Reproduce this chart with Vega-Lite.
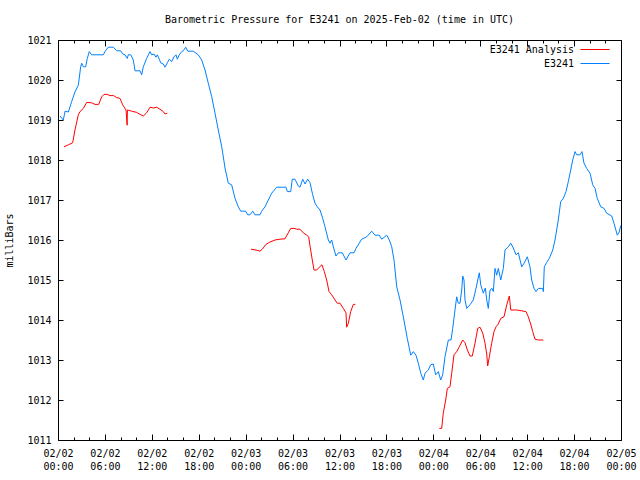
{
  "$schema": "https://vega.github.io/schema/vega-lite/v6.json",
  "width": 563,
  "height": 400,
  "autosize": {"type": "none"},
  "padding": {"left": 58, "top": 40, "right": 19, "bottom": 40},
  "background": "white",
  "config": {
    "view": {"stroke": null},
    "font": "DejaVu Sans Mono",
    "axis": {"grid": false, "domain": true, "ticks": true, "domainColor": "black", "tickColor": "black", "tickWidth": 1, "labelColor": "black", "labelFont": "DejaVu Sans Mono", "labelFontSize": 10, "titleFont": "DejaVu Sans Mono", "titleFontSize": 10, "titleFontWeight": "normal", "titleColor": "black"},
    "legend": {"labelFont": "DejaVu Sans Mono", "labelFontSize": 10, "labelColor": "black"}
  },
  "title": {"text": "Barometric Pressure for E3241 on 2025-Feb-02 (time in UTC)", "font": "DejaVu Sans Mono", "fontSize": 10, "fontWeight": "normal", "color": "black", "anchor": "middle", "baseline": "alphabetic", "offset": 2, "frame": "group"},
  "datasets": {
    "d": [
      {"h": 0.26, "p": 1019.1, "s": "E3241", "seg": "b"},
      {"h": 0.68, "p": 1019.0, "s": "E3241", "seg": "b"},
      {"h": 0.9, "p": 1019.22, "s": "E3241", "seg": "b"},
      {"h": 1.32, "p": 1019.2, "s": "E3241", "seg": "b"},
      {"h": 1.75, "p": 1019.46, "s": "E3241", "seg": "b"},
      {"h": 2.17, "p": 1019.7, "s": "E3241", "seg": "b"},
      {"h": 2.6, "p": 1019.87, "s": "E3241", "seg": "b"},
      {"h": 2.9, "p": 1020.33, "s": "E3241", "seg": "b"},
      {"h": 3.03, "p": 1020.42, "s": "E3241", "seg": "b"},
      {"h": 3.24, "p": 1020.33, "s": "E3241", "seg": "b"},
      {"h": 3.54, "p": 1020.33, "s": "E3241", "seg": "b"},
      {"h": 3.75, "p": 1020.54, "s": "E3241", "seg": "b"},
      {"h": 4.0, "p": 1020.71, "s": "E3241", "seg": "b"},
      {"h": 4.31, "p": 1020.63, "s": "E3241", "seg": "b"},
      {"h": 5.79, "p": 1020.63, "s": "E3241", "seg": "b"},
      {"h": 6.01, "p": 1020.71, "s": "E3241", "seg": "b"},
      {"h": 6.43, "p": 1020.82, "s": "E3241", "seg": "b"},
      {"h": 7.07, "p": 1020.82, "s": "E3241", "seg": "b"},
      {"h": 7.51, "p": 1020.73, "s": "E3241", "seg": "b"},
      {"h": 8.02, "p": 1020.73, "s": "E3241", "seg": "b"},
      {"h": 8.27, "p": 1020.65, "s": "E3241", "seg": "b"},
      {"h": 8.57, "p": 1020.63, "s": "E3241", "seg": "b"},
      {"h": 8.86, "p": 1020.54, "s": "E3241", "seg": "b"},
      {"h": 8.99, "p": 1020.63, "s": "E3241", "seg": "b"},
      {"h": 9.3, "p": 1020.63, "s": "E3241", "seg": "b"},
      {"h": 9.63, "p": 1020.5, "s": "E3241", "seg": "b"},
      {"h": 9.85, "p": 1020.23, "s": "E3241", "seg": "b"},
      {"h": 10.49, "p": 1020.23, "s": "E3241", "seg": "b"},
      {"h": 10.7, "p": 1020.13, "s": "E3241", "seg": "b"},
      {"h": 10.91, "p": 1020.33, "s": "E3241", "seg": "b"},
      {"h": 11.34, "p": 1020.54, "s": "E3241", "seg": "b"},
      {"h": 11.77, "p": 1020.71, "s": "E3241", "seg": "b"},
      {"h": 11.98, "p": 1020.63, "s": "E3241", "seg": "b"},
      {"h": 12.28, "p": 1020.65, "s": "E3241", "seg": "b"},
      {"h": 12.53, "p": 1020.57, "s": "E3241", "seg": "b"},
      {"h": 12.7, "p": 1020.63, "s": "E3241", "seg": "b"},
      {"h": 12.96, "p": 1020.52, "s": "E3241", "seg": "b"},
      {"h": 13.13, "p": 1020.43, "s": "E3241", "seg": "b"},
      {"h": 13.47, "p": 1020.4, "s": "E3241", "seg": "b"},
      {"h": 13.68, "p": 1020.32, "s": "E3241", "seg": "b"},
      {"h": 13.98, "p": 1020.43, "s": "E3241", "seg": "b"},
      {"h": 14.23, "p": 1020.52, "s": "E3241", "seg": "b"},
      {"h": 14.54, "p": 1020.46, "s": "E3241", "seg": "b"},
      {"h": 14.84, "p": 1020.58, "s": "E3241", "seg": "b"},
      {"h": 15.09, "p": 1020.63, "s": "E3241", "seg": "b"},
      {"h": 15.26, "p": 1020.52, "s": "E3241", "seg": "b"},
      {"h": 15.51, "p": 1020.63, "s": "E3241", "seg": "b"},
      {"h": 15.82, "p": 1020.71, "s": "E3241", "seg": "b"},
      {"h": 16.02, "p": 1020.73, "s": "E3241", "seg": "b"},
      {"h": 16.33, "p": 1020.82, "s": "E3241", "seg": "b"},
      {"h": 16.59, "p": 1020.72, "s": "E3241", "seg": "b"},
      {"h": 17.3, "p": 1020.72, "s": "E3241", "seg": "b"},
      {"h": 17.94, "p": 1020.63, "s": "E3241", "seg": "b"},
      {"h": 18.38, "p": 1020.5, "s": "E3241", "seg": "b"},
      {"h": 18.8, "p": 1020.25, "s": "E3241", "seg": "b"},
      {"h": 19.22, "p": 1019.92, "s": "E3241", "seg": "b"},
      {"h": 19.66, "p": 1019.58, "s": "E3241", "seg": "b"},
      {"h": 20.08, "p": 1019.17, "s": "E3241", "seg": "b"},
      {"h": 20.5, "p": 1018.75, "s": "E3241", "seg": "b"},
      {"h": 20.94, "p": 1018.33, "s": "E3241", "seg": "b"},
      {"h": 21.36, "p": 1017.8, "s": "E3241", "seg": "b"},
      {"h": 21.78, "p": 1017.42, "s": "E3241", "seg": "b"},
      {"h": 22.21, "p": 1017.38, "s": "E3241", "seg": "b"},
      {"h": 22.64, "p": 1017.04, "s": "E3241", "seg": "b"},
      {"h": 23.06, "p": 1016.83, "s": "E3241", "seg": "b"},
      {"h": 23.37, "p": 1016.72, "s": "E3241", "seg": "b"},
      {"h": 24.0, "p": 1016.72, "s": "E3241", "seg": "b"},
      {"h": 24.26, "p": 1016.63, "s": "E3241", "seg": "b"},
      {"h": 24.55, "p": 1016.63, "s": "E3241", "seg": "b"},
      {"h": 24.9, "p": 1016.72, "s": "E3241", "seg": "b"},
      {"h": 25.19, "p": 1016.63, "s": "E3241", "seg": "b"},
      {"h": 25.83, "p": 1016.63, "s": "E3241", "seg": "b"},
      {"h": 26.05, "p": 1016.72, "s": "E3241", "seg": "b"},
      {"h": 26.47, "p": 1016.83, "s": "E3241", "seg": "b"},
      {"h": 26.9, "p": 1017.0, "s": "E3241", "seg": "b"},
      {"h": 27.33, "p": 1017.17, "s": "E3241", "seg": "b"},
      {"h": 27.97, "p": 1017.32, "s": "E3241", "seg": "b"},
      {"h": 29.16, "p": 1017.32, "s": "E3241", "seg": "b"},
      {"h": 29.33, "p": 1017.21, "s": "E3241", "seg": "b"},
      {"h": 29.76, "p": 1017.21, "s": "E3241", "seg": "b"},
      {"h": 29.96, "p": 1017.52, "s": "E3241", "seg": "b"},
      {"h": 30.31, "p": 1017.52, "s": "E3241", "seg": "b"},
      {"h": 30.73, "p": 1017.35, "s": "E3241", "seg": "b"},
      {"h": 30.95, "p": 1017.32, "s": "E3241", "seg": "b"},
      {"h": 31.3, "p": 1017.52, "s": "E3241", "seg": "b"},
      {"h": 31.59, "p": 1017.4, "s": "E3241", "seg": "b"},
      {"h": 31.93, "p": 1017.52, "s": "E3241", "seg": "b"},
      {"h": 32.23, "p": 1017.43, "s": "E3241", "seg": "b"},
      {"h": 32.57, "p": 1017.13, "s": "E3241", "seg": "b"},
      {"h": 32.87, "p": 1016.92, "s": "E3241", "seg": "b"},
      {"h": 33.16, "p": 1016.83, "s": "E3241", "seg": "b"},
      {"h": 33.51, "p": 1016.75, "s": "E3241", "seg": "b"},
      {"h": 33.85, "p": 1016.54, "s": "E3241", "seg": "b"},
      {"h": 34.15, "p": 1016.33, "s": "E3241", "seg": "b"},
      {"h": 34.57, "p": 1016.0, "s": "E3241", "seg": "b"},
      {"h": 34.79, "p": 1015.92, "s": "E3241", "seg": "b"},
      {"h": 35.0, "p": 1016.0, "s": "E3241", "seg": "b"},
      {"h": 35.21, "p": 1015.83, "s": "E3241", "seg": "b"},
      {"h": 35.55, "p": 1015.6, "s": "E3241", "seg": "b"},
      {"h": 35.85, "p": 1015.68, "s": "E3241", "seg": "b"},
      {"h": 36.36, "p": 1015.68, "s": "E3241", "seg": "b"},
      {"h": 36.83, "p": 1015.5, "s": "E3241", "seg": "b"},
      {"h": 37.34, "p": 1015.68, "s": "E3241", "seg": "b"},
      {"h": 37.86, "p": 1015.68, "s": "E3241", "seg": "b"},
      {"h": 38.11, "p": 1015.79, "s": "E3241", "seg": "b"},
      {"h": 38.84, "p": 1016.02, "s": "E3241", "seg": "b"},
      {"h": 39.48, "p": 1016.08, "s": "E3241", "seg": "b"},
      {"h": 40.12, "p": 1016.22, "s": "E3241", "seg": "b"},
      {"h": 40.54, "p": 1016.12, "s": "E3241", "seg": "b"},
      {"h": 41.09, "p": 1016.12, "s": "E3241", "seg": "b"},
      {"h": 41.4, "p": 1016.02, "s": "E3241", "seg": "b"},
      {"h": 42.04, "p": 1016.12, "s": "E3241", "seg": "b"},
      {"h": 42.37, "p": 1016.0, "s": "E3241", "seg": "b"},
      {"h": 42.68, "p": 1015.83, "s": "E3241", "seg": "b"},
      {"h": 42.97, "p": 1015.5, "s": "E3241", "seg": "b"},
      {"h": 43.32, "p": 1014.83, "s": "E3241", "seg": "b"},
      {"h": 43.74, "p": 1014.5, "s": "E3241", "seg": "b"},
      {"h": 44.16, "p": 1014.08, "s": "E3241", "seg": "b"},
      {"h": 44.67, "p": 1013.54, "s": "E3241", "seg": "b"},
      {"h": 45.11, "p": 1013.12, "s": "E3241", "seg": "b"},
      {"h": 45.44, "p": 1013.21, "s": "E3241", "seg": "b"},
      {"h": 45.78, "p": 1013.12, "s": "E3241", "seg": "b"},
      {"h": 46.08, "p": 1012.92, "s": "E3241", "seg": "b"},
      {"h": 46.39, "p": 1012.67, "s": "E3241", "seg": "b"},
      {"h": 46.72, "p": 1012.5, "s": "E3241", "seg": "b"},
      {"h": 46.94, "p": 1012.67, "s": "E3241", "seg": "b"},
      {"h": 47.36, "p": 1012.75, "s": "E3241", "seg": "b"},
      {"h": 47.66, "p": 1012.88, "s": "E3241", "seg": "b"},
      {"h": 48.0, "p": 1012.9, "s": "E3241", "seg": "b"},
      {"h": 48.3, "p": 1012.63, "s": "E3241", "seg": "b"},
      {"h": 48.64, "p": 1012.71, "s": "E3241", "seg": "b"},
      {"h": 48.94, "p": 1012.5, "s": "E3241", "seg": "b"},
      {"h": 49.2, "p": 1012.63, "s": "E3241", "seg": "b"},
      {"h": 49.49, "p": 1013.08, "s": "E3241", "seg": "b"},
      {"h": 49.92, "p": 1013.5, "s": "E3241", "seg": "b"},
      {"h": 50.26, "p": 1013.5, "s": "E3241", "seg": "b"},
      {"h": 50.48, "p": 1013.79, "s": "E3241", "seg": "b"},
      {"h": 50.77, "p": 1014.25, "s": "E3241", "seg": "b"},
      {"h": 50.99, "p": 1014.58, "s": "E3241", "seg": "b"},
      {"h": 51.19, "p": 1014.42, "s": "E3241", "seg": "b"},
      {"h": 51.41, "p": 1014.42, "s": "E3241", "seg": "b"},
      {"h": 51.63, "p": 1014.75, "s": "E3241", "seg": "b"},
      {"h": 51.76, "p": 1015.1, "s": "E3241", "seg": "b"},
      {"h": 51.92, "p": 1015.0, "s": "E3241", "seg": "b"},
      {"h": 52.05, "p": 1014.5, "s": "E3241", "seg": "b"},
      {"h": 52.27, "p": 1014.29, "s": "E3241", "seg": "b"},
      {"h": 52.69, "p": 1014.38, "s": "E3241", "seg": "b"},
      {"h": 53.11, "p": 1014.5, "s": "E3241", "seg": "b"},
      {"h": 53.46, "p": 1014.79, "s": "E3241", "seg": "b"},
      {"h": 53.68, "p": 1015.0, "s": "E3241", "seg": "b"},
      {"h": 53.88, "p": 1015.18, "s": "E3241", "seg": "b"},
      {"h": 54.06, "p": 1014.88, "s": "E3241", "seg": "b"},
      {"h": 54.39, "p": 1014.67, "s": "E3241", "seg": "b"},
      {"h": 54.65, "p": 1014.8, "s": "E3241", "seg": "b"},
      {"h": 54.83, "p": 1014.5, "s": "E3241", "seg": "b"},
      {"h": 55.03, "p": 1014.29, "s": "E3241", "seg": "b"},
      {"h": 55.25, "p": 1014.75, "s": "E3241", "seg": "b"},
      {"h": 55.5, "p": 1014.79, "s": "E3241", "seg": "b"},
      {"h": 55.67, "p": 1014.71, "s": "E3241", "seg": "b"},
      {"h": 55.89, "p": 1015.29, "s": "E3241", "seg": "b"},
      {"h": 56.1, "p": 1015.12, "s": "E3241", "seg": "b"},
      {"h": 56.31, "p": 1015.29, "s": "E3241", "seg": "b"},
      {"h": 56.62, "p": 1015.0, "s": "E3241", "seg": "b"},
      {"h": 56.95, "p": 1015.29, "s": "E3241", "seg": "b"},
      {"h": 57.17, "p": 1015.75, "s": "E3241", "seg": "b"},
      {"h": 57.59, "p": 1015.83, "s": "E3241", "seg": "b"},
      {"h": 57.9, "p": 1015.92, "s": "E3241", "seg": "b"},
      {"h": 58.23, "p": 1015.8, "s": "E3241", "seg": "b"},
      {"h": 58.57, "p": 1015.63, "s": "E3241", "seg": "b"},
      {"h": 58.87, "p": 1015.68, "s": "E3241", "seg": "b"},
      {"h": 59.3, "p": 1015.33, "s": "E3241", "seg": "b"},
      {"h": 59.6, "p": 1015.42, "s": "E3241", "seg": "b"},
      {"h": 60.02, "p": 1015.58, "s": "E3241", "seg": "b"},
      {"h": 60.36, "p": 1015.33, "s": "E3241", "seg": "b"},
      {"h": 60.58, "p": 1015.0, "s": "E3241", "seg": "b"},
      {"h": 60.87, "p": 1014.79, "s": "E3241", "seg": "b"},
      {"h": 61.13, "p": 1014.71, "s": "E3241", "seg": "b"},
      {"h": 61.43, "p": 1014.79, "s": "E3241", "seg": "b"},
      {"h": 61.99, "p": 1014.79, "s": "E3241", "seg": "b"},
      {"h": 62.07, "p": 1014.71, "s": "E3241", "seg": "b"},
      {"h": 62.19, "p": 1015.33, "s": "E3241", "seg": "b"},
      {"h": 62.5, "p": 1015.44, "s": "E3241", "seg": "b"},
      {"h": 62.83, "p": 1015.54, "s": "E3241", "seg": "b"},
      {"h": 63.27, "p": 1015.75, "s": "E3241", "seg": "b"},
      {"h": 63.56, "p": 1016.0, "s": "E3241", "seg": "b"},
      {"h": 63.98, "p": 1016.5, "s": "E3241", "seg": "b"},
      {"h": 64.29, "p": 1016.96, "s": "E3241", "seg": "b"},
      {"h": 64.62, "p": 1017.04, "s": "E3241", "seg": "b"},
      {"h": 64.97, "p": 1017.21, "s": "E3241", "seg": "b"},
      {"h": 65.26, "p": 1017.46, "s": "E3241", "seg": "b"},
      {"h": 65.57, "p": 1017.75, "s": "E3241", "seg": "b"},
      {"h": 65.82, "p": 1018.0, "s": "E3241", "seg": "b"},
      {"h": 66.12, "p": 1018.21, "s": "E3241", "seg": "b"},
      {"h": 66.34, "p": 1018.13, "s": "E3241", "seg": "b"},
      {"h": 66.76, "p": 1018.13, "s": "E3241", "seg": "b"},
      {"h": 67.01, "p": 1018.21, "s": "E3241", "seg": "b"},
      {"h": 67.27, "p": 1017.92, "s": "E3241", "seg": "b"},
      {"h": 67.61, "p": 1017.79, "s": "E3241", "seg": "b"},
      {"h": 68.04, "p": 1017.67, "s": "E3241", "seg": "b"},
      {"h": 68.38, "p": 1017.38, "s": "E3241", "seg": "b"},
      {"h": 68.68, "p": 1017.29, "s": "E3241", "seg": "b"},
      {"h": 68.97, "p": 1017.04, "s": "E3241", "seg": "b"},
      {"h": 69.41, "p": 1016.83, "s": "E3241", "seg": "b"},
      {"h": 69.83, "p": 1016.79, "s": "E3241", "seg": "b"},
      {"h": 70.17, "p": 1016.67, "s": "E3241", "seg": "b"},
      {"h": 70.81, "p": 1016.6, "s": "E3241", "seg": "b"},
      {"h": 71.1, "p": 1016.42, "s": "E3241", "seg": "b"},
      {"h": 71.53, "p": 1016.12, "s": "E3241", "seg": "b"},
      {"h": 71.78, "p": 1016.2, "s": "E3241", "seg": "b"},
      {"h": 71.96, "p": 1016.36, "s": "E3241", "seg": "b"},

      {"h": 0.77, "p": 1018.33, "s": "E3241 Analysis", "seg": "r1"},
      {"h": 1.32, "p": 1018.38, "s": "E3241 Analysis", "seg": "r1"},
      {"h": 1.88, "p": 1018.43, "s": "E3241 Analysis", "seg": "r1"},
      {"h": 2.17, "p": 1018.75, "s": "E3241 Analysis", "seg": "r1"},
      {"h": 2.6, "p": 1019.13, "s": "E3241 Analysis", "seg": "r1"},
      {"h": 2.81, "p": 1019.21, "s": "E3241 Analysis", "seg": "r1"},
      {"h": 3.24, "p": 1019.29, "s": "E3241 Analysis", "seg": "r1"},
      {"h": 3.67, "p": 1019.44, "s": "E3241 Analysis", "seg": "r1"},
      {"h": 4.31, "p": 1019.43, "s": "E3241 Analysis", "seg": "r1"},
      {"h": 4.73, "p": 1019.39, "s": "E3241 Analysis", "seg": "r1"},
      {"h": 5.2, "p": 1019.39, "s": "E3241 Analysis", "seg": "r1"},
      {"h": 5.59, "p": 1019.58, "s": "E3241 Analysis", "seg": "r1"},
      {"h": 5.88, "p": 1019.64, "s": "E3241 Analysis", "seg": "r1"},
      {"h": 6.3, "p": 1019.64, "s": "E3241 Analysis", "seg": "r1"},
      {"h": 6.65, "p": 1019.61, "s": "E3241 Analysis", "seg": "r1"},
      {"h": 7.1, "p": 1019.61, "s": "E3241 Analysis", "seg": "r1"},
      {"h": 7.51, "p": 1019.56, "s": "E3241 Analysis", "seg": "r1"},
      {"h": 7.93, "p": 1019.54, "s": "E3241 Analysis", "seg": "r1"},
      {"h": 8.27, "p": 1019.38, "s": "E3241 Analysis", "seg": "r1"},
      {"h": 8.7, "p": 1019.25, "s": "E3241 Analysis", "seg": "r1"},
      {"h": 8.84, "p": 1018.87, "s": "E3241 Analysis", "seg": "r1"},
      {"h": 8.88, "p": 1019.25, "s": "E3241 Analysis", "seg": "r1"},
      {"h": 9.43, "p": 1019.22, "s": "E3241 Analysis", "seg": "r1"},
      {"h": 10.06, "p": 1019.19, "s": "E3241 Analysis", "seg": "r1"},
      {"h": 10.49, "p": 1019.14, "s": "E3241 Analysis", "seg": "r1"},
      {"h": 10.91, "p": 1019.1, "s": "E3241 Analysis", "seg": "r1"},
      {"h": 11.34, "p": 1019.18, "s": "E3241 Analysis", "seg": "r1"},
      {"h": 11.77, "p": 1019.32, "s": "E3241 Analysis", "seg": "r1"},
      {"h": 12.2, "p": 1019.3, "s": "E3241 Analysis", "seg": "r1"},
      {"h": 12.62, "p": 1019.32, "s": "E3241 Analysis", "seg": "r1"},
      {"h": 13.04, "p": 1019.27, "s": "E3241 Analysis", "seg": "r1"},
      {"h": 13.47, "p": 1019.21, "s": "E3241 Analysis", "seg": "r1"},
      {"h": 13.68, "p": 1019.15, "s": "E3241 Analysis", "seg": "r1"},
      {"h": 13.98, "p": 1019.17, "s": "E3241 Analysis", "seg": "r1"},

      {"h": 24.68, "p": 1015.77, "s": "E3241 Analysis", "seg": "r2"},
      {"h": 25.32, "p": 1015.75, "s": "E3241 Analysis", "seg": "r2"},
      {"h": 25.83, "p": 1015.72, "s": "E3241 Analysis", "seg": "r2"},
      {"h": 26.13, "p": 1015.77, "s": "E3241 Analysis", "seg": "r2"},
      {"h": 26.6, "p": 1015.89, "s": "E3241 Analysis", "seg": "r2"},
      {"h": 27.11, "p": 1015.95, "s": "E3241 Analysis", "seg": "r2"},
      {"h": 27.75, "p": 1016.0, "s": "E3241 Analysis", "seg": "r2"},
      {"h": 28.39, "p": 1016.02, "s": "E3241 Analysis", "seg": "r2"},
      {"h": 29.03, "p": 1016.03, "s": "E3241 Analysis", "seg": "r2"},
      {"h": 29.45, "p": 1016.18, "s": "E3241 Analysis", "seg": "r2"},
      {"h": 29.76, "p": 1016.29, "s": "E3241 Analysis", "seg": "r2"},
      {"h": 30.18, "p": 1016.29, "s": "E3241 Analysis", "seg": "r2"},
      {"h": 30.53, "p": 1016.27, "s": "E3241 Analysis", "seg": "r2"},
      {"h": 30.95, "p": 1016.27, "s": "E3241 Analysis", "seg": "r2"},
      {"h": 31.37, "p": 1016.18, "s": "E3241 Analysis", "seg": "r2"},
      {"h": 31.81, "p": 1016.12, "s": "E3241 Analysis", "seg": "r2"},
      {"h": 32.06, "p": 1016.08, "s": "E3241 Analysis", "seg": "r2"},
      {"h": 32.23, "p": 1015.85, "s": "E3241 Analysis", "seg": "r2"},
      {"h": 32.52, "p": 1015.5, "s": "E3241 Analysis", "seg": "r2"},
      {"h": 32.74, "p": 1015.25, "s": "E3241 Analysis", "seg": "r2"},
      {"h": 33.09, "p": 1015.25, "s": "E3241 Analysis", "seg": "r2"},
      {"h": 33.42, "p": 1015.32, "s": "E3241 Analysis", "seg": "r2"},
      {"h": 33.76, "p": 1015.38, "s": "E3241 Analysis", "seg": "r2"},
      {"h": 34.06, "p": 1015.21, "s": "E3241 Analysis", "seg": "r2"},
      {"h": 34.36, "p": 1015.0, "s": "E3241 Analysis", "seg": "r2"},
      {"h": 34.66, "p": 1014.71, "s": "E3241 Analysis", "seg": "r2"},
      {"h": 35.0, "p": 1014.63, "s": "E3241 Analysis", "seg": "r2"},
      {"h": 35.43, "p": 1014.5, "s": "E3241 Analysis", "seg": "r2"},
      {"h": 35.72, "p": 1014.42, "s": "E3241 Analysis", "seg": "r2"},
      {"h": 36.06, "p": 1014.42, "s": "E3241 Analysis", "seg": "r2"},
      {"h": 36.49, "p": 1014.29, "s": "E3241 Analysis", "seg": "r2"},
      {"h": 36.83, "p": 1014.18, "s": "E3241 Analysis", "seg": "r2"},
      {"h": 36.92, "p": 1013.82, "s": "E3241 Analysis", "seg": "r2"},
      {"h": 37.13, "p": 1013.92, "s": "E3241 Analysis", "seg": "r2"},
      {"h": 37.43, "p": 1014.21, "s": "E3241 Analysis", "seg": "r2"},
      {"h": 37.77, "p": 1014.39, "s": "E3241 Analysis", "seg": "r2"},
      {"h": 38.02, "p": 1014.39, "s": "E3241 Analysis", "seg": "r2"},

      {"h": 48.76, "p": 1011.29, "s": "E3241 Analysis", "seg": "r3"},
      {"h": 49.07, "p": 1011.29, "s": "E3241 Analysis", "seg": "r3"},
      {"h": 49.27, "p": 1011.67, "s": "E3241 Analysis", "seg": "r3"},
      {"h": 49.58, "p": 1012.0, "s": "E3241 Analysis", "seg": "r3"},
      {"h": 49.79, "p": 1012.29, "s": "E3241 Analysis", "seg": "r3"},
      {"h": 50.13, "p": 1012.33, "s": "E3241 Analysis", "seg": "r3"},
      {"h": 50.35, "p": 1012.67, "s": "E3241 Analysis", "seg": "r3"},
      {"h": 50.64, "p": 1013.13, "s": "E3241 Analysis", "seg": "r3"},
      {"h": 50.99, "p": 1013.21, "s": "E3241 Analysis", "seg": "r3"},
      {"h": 51.32, "p": 1013.33, "s": "E3241 Analysis", "seg": "r3"},
      {"h": 51.76, "p": 1013.5, "s": "E3241 Analysis", "seg": "r3"},
      {"h": 52.05, "p": 1013.43, "s": "E3241 Analysis", "seg": "r3"},
      {"h": 52.35, "p": 1013.25, "s": "E3241 Analysis", "seg": "r3"},
      {"h": 52.69, "p": 1013.1, "s": "E3241 Analysis", "seg": "r3"},
      {"h": 52.98, "p": 1013.1, "s": "E3241 Analysis", "seg": "r3"},
      {"h": 53.33, "p": 1013.42, "s": "E3241 Analysis", "seg": "r3"},
      {"h": 53.68, "p": 1013.79, "s": "E3241 Analysis", "seg": "r3"},
      {"h": 53.97, "p": 1013.82, "s": "E3241 Analysis", "seg": "r3"},
      {"h": 54.32, "p": 1013.67, "s": "E3241 Analysis", "seg": "r3"},
      {"h": 54.61, "p": 1013.42, "s": "E3241 Analysis", "seg": "r3"},
      {"h": 54.83, "p": 1013.15, "s": "E3241 Analysis", "seg": "r3"},
      {"h": 54.95, "p": 1012.85, "s": "E3241 Analysis", "seg": "r3"},
      {"h": 55.16, "p": 1013.08, "s": "E3241 Analysis", "seg": "r3"},
      {"h": 55.46, "p": 1013.42, "s": "E3241 Analysis", "seg": "r3"},
      {"h": 55.76, "p": 1013.71, "s": "E3241 Analysis", "seg": "r3"},
      {"h": 56.02, "p": 1013.83, "s": "E3241 Analysis", "seg": "r3"},
      {"h": 56.31, "p": 1013.9, "s": "E3241 Analysis", "seg": "r3"},
      {"h": 56.62, "p": 1014.04, "s": "E3241 Analysis", "seg": "r3"},
      {"h": 57.04, "p": 1014.08, "s": "E3241 Analysis", "seg": "r3"},
      {"h": 57.39, "p": 1014.38, "s": "E3241 Analysis", "seg": "r3"},
      {"h": 57.72, "p": 1014.6, "s": "E3241 Analysis", "seg": "r3"},
      {"h": 57.9, "p": 1014.25, "s": "E3241 Analysis", "seg": "r3"},
      {"h": 58.66, "p": 1014.25, "s": "E3241 Analysis", "seg": "r3"},
      {"h": 59.3, "p": 1014.23, "s": "E3241 Analysis", "seg": "r3"},
      {"h": 59.85, "p": 1014.21, "s": "E3241 Analysis", "seg": "r3"},
      {"h": 60.15, "p": 1014.08, "s": "E3241 Analysis", "seg": "r3"},
      {"h": 60.45, "p": 1013.9, "s": "E3241 Analysis", "seg": "r3"},
      {"h": 60.71, "p": 1013.71, "s": "E3241 Analysis", "seg": "r3"},
      {"h": 61.0, "p": 1013.52, "s": "E3241 Analysis", "seg": "r3"},
      {"h": 61.43, "p": 1013.5, "s": "E3241 Analysis", "seg": "r3"},
      {"h": 62.07, "p": 1013.5, "s": "E3241 Analysis", "seg": "r3"}
    ]
  },
  "data": {"name": "d"},
  "resolve": {"axis": {"x": "independent", "y": "independent"}},
  "layer": [
    {
      "mark": {"type": "line", "strokeWidth": 1, "interpolate": "linear"},
      "encoding": {
        "x": {"field": "h", "type": "quantitative", "scale": {"domain": [0, 72], "nice": false, "zero": false},
          "axis": {"orient": "bottom", "title": null, "values": [0, 6, 12, 18, 24, 30, 36, 42, 48, 54, 60, 66, 72], "tickSize": -6, "labelPadding": 14, "labelLineHeight": 13, "labelFlush": false, "labelOverlap": false,
            "labelExpr": "['02/0' + (2 + floor(datum.value / 24)), (datum.value % 24 < 10 ? '0' : '') + (datum.value % 24) + ':00']"}},
        "y": {"field": "p", "type": "quantitative", "scale": {"domain": [1011, 1021], "nice": false, "zero": false},
          "axis": {"orient": "left", "title": "milliBars", "values": [1011, 1012, 1013, 1014, 1015, 1016, 1017, 1018, 1019, 1020, 1021], "tickSize": -5, "labelPadding": 12, "labelFlush": false, "labelOverlap": false, "titlePadding": 12, "format": "d"}},
        "color": {"field": "s", "type": "nominal", "scale": {"domain": ["E3241 Analysis", "E3241"], "range": ["#ff0000", "#0080ff"]},
          "legend": {"title": null, "orient": "none", "legendX": 531.5, "legendY": 4, "symbolType": "M-3,0H3", "symbolSize": 94, "symbolStrokeWidth": 1, "labelAlign": "right", "labelOffset": -26.5, "rowPadding": 3, "padding": 0,
            "encode": {"symbols": {"update": {"stroke": {"scale": "color", "field": "value"}, "fill": {"value": "transparent"}}}}}},
        "detail": {"field": "seg", "type": "nominal"}
      }
    },
    {
      "mark": {"type": "line", "opacity": 0},
      "encoding": {
        "x": {"field": "h", "type": "quantitative",
          "axis": {"orient": "top", "title": null, "values": [0, 6, 12, 18, 24, 30, 36, 42, 48, 54, 60, 66, 72], "tickSize": -6, "labels": false}},
        "y": {"field": "p", "type": "quantitative",
          "axis": {"orient": "right", "title": null, "values": [1011, 1012, 1013, 1014, 1015, 1016, 1017, 1018, 1019, 1020, 1021], "tickSize": -5, "labels": false}},
        "detail": {"field": "seg", "type": "nominal"}
      }
    },
    {
      "mark": {"type": "line", "opacity": 0},
      "encoding": {
        "x": {"field": "h", "type": "quantitative",
          "axis": {"orient": "bottom", "title": null, "values": [2, 4, 8, 10, 14, 16, 20, 22, 26, 28, 32, 34, 38, 40, 44, 46, 50, 52, 56, 58, 62, 64, 68, 70], "tickSize": -3, "labels": false, "domain": false}},
        "y": {"field": "p", "type": "quantitative", "axis": {"orient": "left", "title": null, "labels": false, "ticks": false, "domain": false}},
        "detail": {"field": "seg", "type": "nominal"}
      }
    },
    {
      "mark": {"type": "line", "opacity": 0},
      "encoding": {
        "x": {"field": "h", "type": "quantitative",
          "axis": {"orient": "top", "title": null, "values": [2, 4, 8, 10, 14, 16, 20, 22, 26, 28, 32, 34, 38, 40, 44, 46, 50, 52, 56, 58, 62, 64, 68, 70], "tickSize": -3, "labels": false, "domain": false}},
        "y": {"field": "p", "type": "quantitative", "axis": {"orient": "right", "title": null, "labels": false, "ticks": false, "domain": false}},
        "detail": {"field": "seg", "type": "nominal"}
      }
    }
  ]
}
